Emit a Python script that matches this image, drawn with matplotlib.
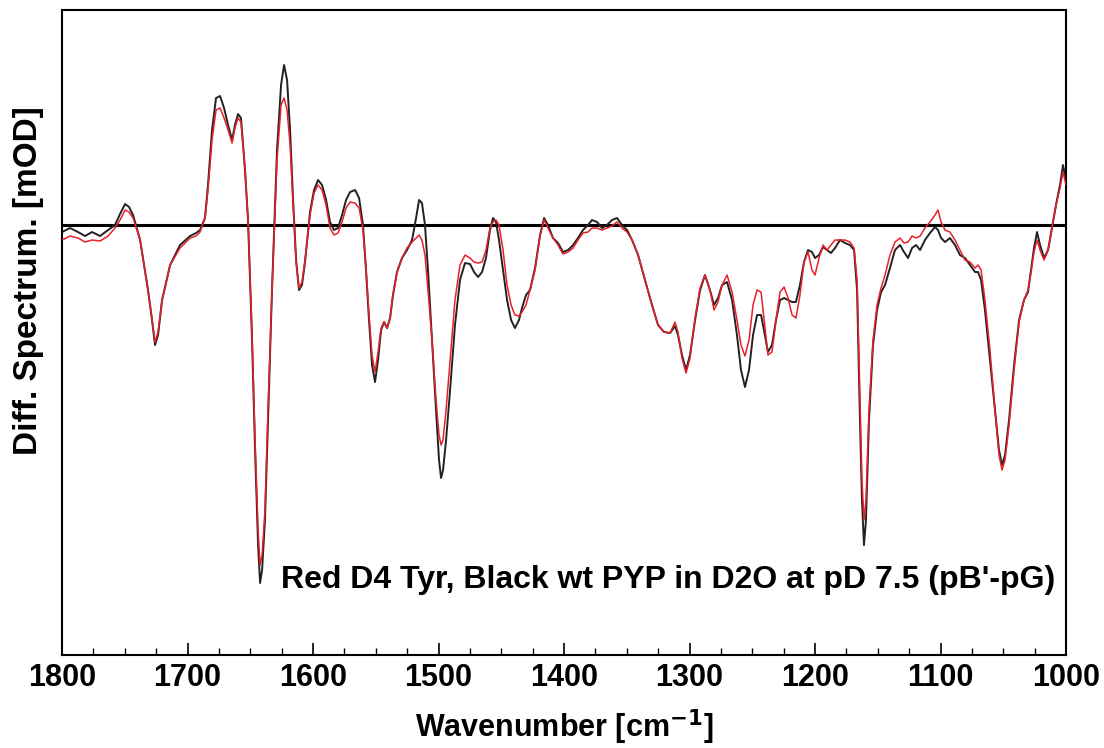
import matplotlib
matplotlib.use("Agg")
import matplotlib.pyplot as plt
from matplotlib.ticker import MultipleLocator

# wavenumbers [cm-1]
wavenumber = [
    1800.0, 1793.6, 1787.3, 1781.7, 1776.1, 1769.7, 1763.3, 1757.8, 1753.8, 1749.8,
    1746.6, 1743.4, 1737.8, 1731.5, 1728.3, 1725.9, 1723.5, 1720.3, 1713.9, 1706.0,
    1698.0, 1693.2, 1690.0, 1686.1, 1683.7, 1680.5, 1677.3, 1674.1, 1670.9, 1667.7,
    1664.5, 1662.2, 1659.8, 1657.4, 1654.2, 1651.8, 1648.6, 1646.2, 1643.8, 1642.2,
    1640.6, 1638.3, 1635.9, 1632.7, 1628.7, 1625.5, 1623.1, 1620.7, 1618.3, 1615.9,
    1613.5, 1611.2, 1608.8, 1606.4, 1602.4, 1599.2, 1596.0, 1592.8, 1589.6, 1586.5,
    1583.3, 1580.1, 1576.9, 1573.7, 1570.5, 1566.5, 1563.3, 1560.2, 1557.8, 1555.4,
    1553.0, 1550.6, 1548.2, 1545.8, 1543.4, 1541.0, 1538.6, 1536.3, 1533.1, 1529.1,
    1525.1, 1521.1, 1517.9, 1515.5, 1513.2, 1510.8, 1508.4, 1505.2, 1502.0, 1499.6,
    1498.0, 1496.4, 1494.0, 1490.8, 1486.9, 1482.9, 1478.9, 1474.9, 1471.7, 1468.5,
    1465.3, 1462.2, 1459.0, 1456.6, 1454.2, 1451.8, 1448.6, 1445.4, 1442.2, 1439.1,
    1435.9, 1433.5, 1430.3, 1427.1, 1423.1, 1419.1, 1415.9, 1412.8, 1408.8, 1404.8,
    1400.8, 1396.8, 1392.8, 1388.9, 1384.9, 1380.9, 1377.7, 1373.7, 1369.7, 1365.8,
    1361.8, 1357.8, 1353.8, 1349.8, 1345.8, 1341.0, 1335.5, 1329.9, 1325.1, 1320.3,
    1315.5, 1311.6, 1309.2, 1306.0, 1302.8, 1299.6, 1295.6, 1291.6, 1287.7, 1283.7,
    1280.5, 1277.3, 1274.1, 1270.1, 1266.1, 1262.2, 1259.0, 1255.8, 1252.6, 1249.4,
    1246.2, 1243.0, 1240.7, 1237.5, 1234.3, 1231.1, 1227.9, 1224.7, 1221.5, 1218.3,
    1215.2, 1212.0, 1208.8, 1205.6, 1202.4, 1200.0, 1196.8, 1193.6, 1190.5, 1187.3,
    1184.1, 1180.1, 1176.1, 1172.1, 1168.9, 1166.5, 1164.2, 1162.6, 1161.0, 1159.4,
    1157.0, 1153.8, 1150.6, 1147.4, 1144.2, 1140.3, 1136.3, 1132.3, 1129.1, 1125.9,
    1122.7, 1119.5, 1116.3, 1112.4, 1108.4, 1104.4, 1102.0, 1099.6, 1096.4, 1092.5,
    1088.5, 1084.5, 1080.5, 1076.5, 1072.5, 1070.1, 1067.7, 1064.6, 1060.6, 1056.6,
    1053.4, 1051.0, 1048.6, 1045.4, 1041.4, 1037.4, 1033.5, 1030.3, 1027.9, 1025.5,
    1023.1, 1020.7, 1017.5, 1014.3, 1011.2, 1008.0, 1004.8, 1002.4, 1000.0,
]

# wt PYP (black)
wt_pyp = [
    -0.07, -0.03, -0.07, -0.11, -0.07, -0.11, -0.05, 0.00, 0.11, 0.21,
    0.18, 0.10, -0.15, -0.65, -0.95, -1.20, -1.10, -0.75, -0.40, -0.20,
    -0.11, -0.08, -0.05, 0.07, 0.40, 0.95, 1.27, 1.29, 1.17, 1.00,
    0.85, 1.00, 1.11, 1.07, 0.55, 0.05, -1.15, -2.25, -3.20, -3.58,
    -3.45, -2.95, -1.95, -0.65, 0.75, 1.40, 1.60, 1.45, 0.95, 0.25,
    -0.35, -0.65, -0.60, -0.37, 0.13, 0.35, 0.45, 0.40, 0.25, 0.03,
    -0.05, -0.03, 0.10, 0.25, 0.33, 0.35, 0.27, 0.00, -0.45, -0.95,
    -1.40, -1.57, -1.35, -1.05, -0.97, -1.03, -0.93, -0.70, -0.47, -0.33,
    -0.25, -0.15, 0.07, 0.25, 0.22, 0.00, -0.45, -1.15, -1.85, -2.35,
    -2.53, -2.45, -2.15, -1.65, -1.00, -0.55, -0.38, -0.39, -0.47, -0.52,
    -0.47, -0.33, -0.05, 0.07, 0.03, -0.15, -0.45, -0.75, -0.95, -1.03,
    -0.95, -0.83, -0.70, -0.65, -0.43, -0.10, 0.07, 0.00, -0.13, -0.18,
    -0.27, -0.25, -0.20, -0.13, -0.05, 0.00, 0.05, 0.03, -0.03, 0.00,
    0.05, 0.07, 0.00, -0.05, -0.15, -0.30, -0.55, -0.80, -1.00, -1.07,
    -1.08, -1.01, -1.10, -1.30, -1.45, -1.30, -0.95, -0.65, -0.50, -0.65,
    -0.80, -0.73, -0.60, -0.57, -0.75, -1.10, -1.45, -1.62, -1.45, -1.10,
    -0.90, -0.90, -1.05, -1.27, -1.20, -0.95, -0.75, -0.73, -0.75, -0.77,
    -0.77, -0.60, -0.37, -0.25, -0.27, -0.33, -0.30, -0.22, -0.25, -0.28,
    -0.23, -0.15, -0.18, -0.20, -0.25, -0.65, -1.95, -2.75, -3.20, -2.95,
    -1.95, -1.20, -0.85, -0.67, -0.60, -0.43, -0.25, -0.20, -0.27, -0.33,
    -0.23, -0.20, -0.25, -0.15, -0.08, -0.02, -0.05, -0.13, -0.17, -0.13,
    -0.20, -0.30, -0.33, -0.40, -0.47, -0.47, -0.55, -0.85, -1.35, -1.85,
    -2.25, -2.40, -2.30, -1.95, -1.40, -0.95, -0.75, -0.67, -0.45, -0.23,
    -0.07, -0.20, -0.33, -0.25, -0.03, 0.20, 0.40, 0.60, 0.45,
]

# D4 Tyr (red)
d4_tyr = [
    -0.15, -0.11, -0.13, -0.17, -0.15, -0.16, -0.11, -0.03, 0.05, 0.15,
    0.13, 0.07, -0.15, -0.65, -0.95, -1.17, -1.07, -0.75, -0.40, -0.23,
    -0.13, -0.11, -0.07, 0.07, 0.35, 0.85, 1.15, 1.17, 1.07, 0.95,
    0.82, 0.97, 1.07, 1.03, 0.55, 0.05, -1.10, -2.15, -3.05, -3.40,
    -3.30, -2.85, -1.85, -0.65, 0.65, 1.20, 1.27, 1.15, 0.80, 0.20,
    -0.37, -0.63, -0.57, -0.35, 0.10, 0.32, 0.40, 0.35, 0.20, -0.03,
    -0.10, -0.08, 0.03, 0.17, 0.23, 0.22, 0.17, -0.05, -0.43, -0.90,
    -1.30, -1.47, -1.27, -1.03, -0.97, -1.03, -0.93, -0.70, -0.47, -0.33,
    -0.23, -0.17, -0.13, -0.10, -0.15, -0.30, -0.65, -1.15, -1.75, -2.10,
    -2.20, -2.15, -1.85, -1.35, -0.75, -0.40, -0.30, -0.33, -0.37, -0.38,
    -0.37, -0.25, -0.03, 0.03, 0.05, 0.00, -0.25, -0.60, -0.80, -0.90,
    -0.91, -0.87, -0.80, -0.65, -0.45, -0.10, 0.05, -0.03, -0.13, -0.20,
    -0.29, -0.27, -0.23, -0.15, -0.08, -0.07, -0.03, -0.03, -0.05, -0.03,
    -0.01, 0.03, -0.03, -0.07, -0.15, -0.30, -0.55, -0.80, -1.00, -1.07,
    -1.08, -0.97, -1.07, -1.33, -1.48, -1.33, -0.93, -0.63, -0.50, -0.65,
    -0.85, -0.77, -0.60, -0.50, -0.67, -0.95, -1.20, -1.31, -1.15, -0.80,
    -0.65, -0.67, -0.93, -1.30, -1.27, -0.95, -0.67, -0.62, -0.73, -0.90,
    -0.93, -0.70, -0.37, -0.27, -0.45, -0.50, -0.33, -0.20, -0.25, -0.20,
    -0.15, -0.15, -0.15, -0.17, -0.23, -0.55, -1.75, -2.55, -2.95, -2.75,
    -1.85, -1.15, -0.80, -0.63, -0.50, -0.30, -0.17, -0.13, -0.18, -0.17,
    -0.11, -0.13, -0.11, -0.03, 0.03, 0.10, 0.15, 0.03, -0.05, -0.07,
    -0.15, -0.25, -0.35, -0.37, -0.43, -0.40, -0.45, -0.75, -1.25, -1.85,
    -2.30, -2.45, -2.35, -2.00, -1.45, -0.97, -0.75, -0.65, -0.47, -0.27,
    -0.15, -0.25, -0.35, -0.25, -0.03, 0.20, 0.37, 0.53, 0.40,
]

x_ticks = [1800, 1700, 1600, 1500, 1400, 1300, 1200, 1100, 1000]
label_text = "Red D4 Tyr, Black wt PYP in D2O at pD 7.5 (pB'-pG)"

plt.rcParams['font.family'] = ['Liberation Sans', 'DejaVu Sans']
plt.rcParams['font.weight'] = 'bold'

fig = plt.figure(figsize=(11.04, 7.48), dpi=100)
ax = fig.add_axes([0.0562, 0.1243, 0.9094, 0.8623])

ax.axhline(0, color='black', lw=2.2, zorder=1)
ax.plot(wavenumber, wt_pyp, color='#222222', lw=1.4, zorder=2)
ax.plot(wavenumber, d4_tyr, color='#e8202a', lw=1.1, zorder=3)

ax.set_xlim(1800, 1000)
ax.set_ylim(-4.30, 2.15)
ax.set_xticks(x_ticks)
ax.xaxis.set_minor_locator(MultipleLocator(25))
ax.tick_params(axis='x', which='major', direction='in', length=9, width=1.2,
               labelsize=22, pad=6, top=False)
ax.tick_params(axis='x', which='minor', direction='in', length=5, width=1.0, top=False)
ax.tick_params(axis='y', left=False, labelleft=False)
for lbl in ax.get_xticklabels():
    lbl.set_fontweight('bold')
for sp in ax.spines.values():
    sp.set_linewidth(1.5)

ax.set_xlabel("Wavenumber [cm$^{\\mathbf{-1}}$]", fontsize=22, fontweight='bold', labelpad=10)
ax.set_ylabel("Diff. Spectrum. [mOD]", fontsize=24, fontweight='bold')
ax.yaxis.set_label_coords(-0.018, 0.58)

ax.text(0.989, 0.116, label_text, transform=ax.transAxes, ha='right', va='center',
        fontsize=23, fontweight='bold')

fig.savefig("out.png", dpi=100)
